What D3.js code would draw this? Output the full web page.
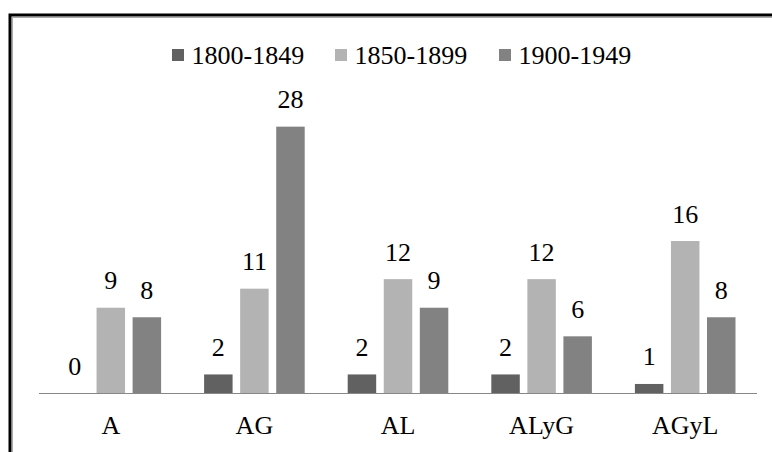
<!DOCTYPE html>
<html><head><meta charset="utf-8">
<script src="https://cdn.jsdelivr.net/npm/d3@7"></script>
<style>html,body{margin:0;padding:0;background:#fff;}svg{display:block;}
svg text{font-family:"Liberation Serif","Times New Roman",Times,"DejaVu Serif",serif;}</style>
</head><body>
<script>
const categories = ["A", "AG", "AL", "ALyG", "AGyL"];
const seriesNames = ["1800-1849", "1850-1899", "1900-1949"];
const s1800 = [0, 2, 2, 2, 1];
const s1850 = [9, 11, 12, 12, 16];
const s1900 = [8, 28, 9, 6, 8];
const seriesValues = [s1800, s1850, s1900];
const colors = ["#616161", "#b3b3b3", "#828282"];

const W = 772, H = 452;
const svg = d3.select("body").append("svg").attr("width", W).attr("height", H);

// frame
svg.append("rect").attr("x", 10).attr("y", 15).attr("width", 900).attr("height", 600)
  .attr("fill", "none").attr("stroke", "#000").attr("stroke-width", 3);
svg.append("line").attr("x1", 12).attr("x2", W).attr("y1", 17.5).attr("y2", 17.5).attr("stroke", "#aaa").attr("stroke-width", 1);
svg.append("line").attr("x1", 12.5).attr("x2", 12.5).attr("y1", 17).attr("y2", H).attr("stroke", "#aaa").attr("stroke-width", 1);

const x0 = d3.scaleBand().domain(categories).range([39, 757]).paddingInner(0).paddingOuter(0);
const x1 = d3.scaleBand().domain(seriesNames).range([21.5, x0.bandwidth() - 21.5]).paddingInner(0.21).paddingOuter(0);
const y = d3.scaleLinear().domain([0, 30]).range([393.5, 107.6]);

const data = [];
seriesNames.forEach((s, si) => categories.forEach((c, ci) => data.push({s, si, c, v: seriesValues[si][ci]})));

svg.append("g").selectAll("rect").data(data).join("rect")
  .attr("x", d => x0(d.c) + x1(d.s))
  .attr("y", d => y(d.v))
  .attr("width", x1.bandwidth())
  .attr("height", d => y(0) - y(d.v))
  .attr("fill", d => colors[d.si]);

svg.append("g").selectAll("text").data(data).join("text")
  .attr("x", d => x0(d.c) + x1(d.s) + x1.bandwidth() / 2)
  .attr("y", d => y(d.v) - 18.5)
  .attr("text-anchor", "middle")
  .style("font-size", "26px").attr("fill", "#000")
  .text(d => d.v);

// axis
const axis = d3.axisBottom(x0).tickSize(0).tickPadding(0);
const gx = svg.append("g").attr("transform", `translate(0,${y(0)})`).call(axis);
gx.attr("font-family", null).attr("font-size", null);
gx.select(".domain").attr("stroke", "#878787").attr("stroke-width", 1.2).attr("d", "M39,0H757");
gx.selectAll("text").style("font-size", "26px").attr("fill", "#000")
  .attr("dy", null).attr("y", 40.5);

// legend
const legX = [172, 335, 499];
const leg = svg.append("g").selectAll("g").data(seriesNames).join("g")
  .attr("transform", (d, i) => `translate(${legX[i]},0)`);
leg.append("rect").attr("x", 0).attr("y", 49).attr("width", 12).attr("height", 12)
  .attr("fill", (d, i) => colors[i]);
leg.append("text").attr("x", 19.5).attr("y", 64)
  .style("font-size", "26px").attr("fill", "#000")
  .text(d => d);
</script>
</body></html>
